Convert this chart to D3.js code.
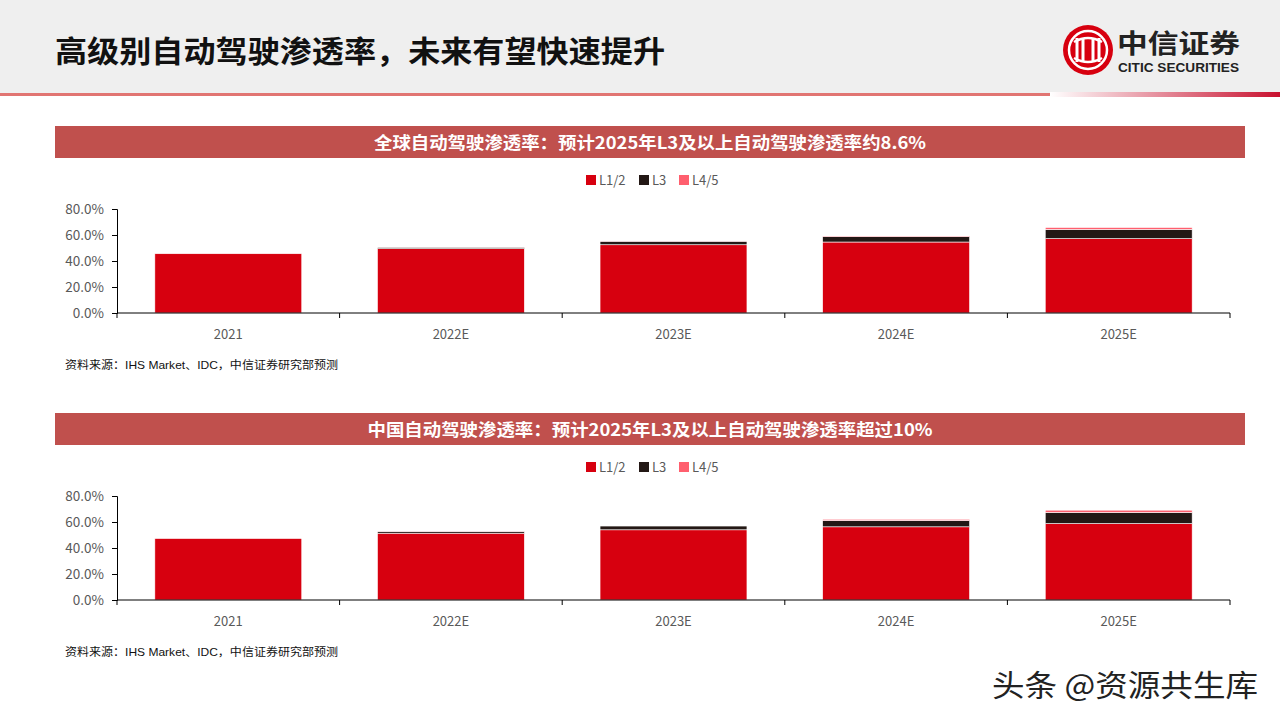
<!DOCTYPE html>
<html>
<head>
<meta charset="utf-8">
<script src="https://cdn.jsdelivr.net/npm/d3@7"></script>
<style>
  body { margin: 0; background: #fff; }
  svg { display: block; font-family: "Noto Sans CJK SC", "Noto Sans", sans-serif; }
</style>
</head>
<body>
<svg id="page" width="1280" height="720"></svg>
<script>
// ---------- data ----------
const years = ['2021', '2022E', '2023E', '2024E', '2025E'];
const seriesNames = ['L1/2', 'L3', 'L4/5'];
const yTicks = [0, 20, 40, 60, 80];

const globalL12 = [45.6, 49.5, 52.5, 54.6, 57.2];
const globalL3  = [0, 1.1, 2.7, 4.1, 7.1];
const globalL45 = [0, 0.1, 0.2, 0.5, 1.5];

const chinaL12 = [47.3, 51.4, 54.0, 56.3, 58.8];
const chinaL3  = [0, 1.3, 3.0, 4.8, 8.5];
const chinaL45 = [0, 0.2, 0.3, 1.0, 1.8];

const pageTitle = '高级别自动驾驶渗透率，未来有望快速提升';
const bannerTitles = [
  '全球自动驾驶渗透率：预计2025年L3及以上自动驾驶渗透率约8.6%',
  '中国自动驾驶渗透率：预计2025年L3及以上自动驾驶渗透率超过10%'
];
const bannerWidths = [552, 565];
const sourceText = '资料来源：IHS Market、IDC，中信证券研究部预测';

const colors = ['#d7000f', '#231815', '#ff5f6e'];

const svg = d3.select('#page');

// ---------- header ----------
const defs = svg.append('defs');
const grad = defs.append('linearGradient').attr('id', 'lineGrad');
grad.append('stop').attr('offset', '0%').attr('stop-color', '#ffffff');
grad.append('stop').attr('offset', '100%').attr('stop-color', '#c8102e');

svg.append('rect').attr('x', 0).attr('y', 0).attr('width', 1280).attr('height', 93).attr('fill', '#efefef');
svg.append('rect').attr('x', 0).attr('y', 93).attr('width', 1050).attr('height', 3).attr('fill', '#d9534f').attr('opacity', 0.8);
svg.append('rect').attr('x', 1050).attr('y', 92).attr('width', 230).attr('height', 5).attr('fill', 'url(#lineGrad)');

svg.append('text')
  .attr('x', 55).attr('y', 62)
  .attr('font-size', 30).attr('font-weight', 'bold').attr('fill', '#111')
  .attr('textLength', 610).attr('lengthAdjust', 'spacingAndGlyphs')
  .text(pageTitle);

// logo
const logo = svg.append('g').attr('transform', 'translate(1088,50)');
logo.append('circle').attr('r', 25).attr('fill', '#d7000f');
logo.append('circle').attr('r', 19).attr('fill', 'none').attr('stroke', '#fff').attr('stroke-width', 2.5);
[-11, -5, 5, 11].forEach(dx => {
  logo.append('rect').attr('x', dx - 1.5).attr('y', -12).attr('width', 3).attr('height', 24).attr('fill', '#fff');
});
logo.append('path').attr('d', 'M-14,-8 Q0,-16 14,-8').attr('fill', 'none').attr('stroke', '#fff').attr('stroke-width', 2.5);
logo.append('path').attr('d', 'M-14,8 Q0,16 14,8').attr('fill', 'none').attr('stroke', '#fff').attr('stroke-width', 2.5);

svg.append('text')
  .attr('x', 1117).attr('y', 53)
  .attr('font-size', 26).attr('font-weight', 'bold').attr('fill', '#222')
  .attr('textLength', 123).attr('lengthAdjust', 'spacingAndGlyphs')
  .text('中信证券');
svg.append('text')
  .attr('x', 1118).attr('y', 72)
  .attr('font-size', 12).attr('font-weight', 'bold').attr('fill', '#222')
  .attr('font-family', 'Liberation Sans, Arial, sans-serif')
  .attr('textLength', 121).attr('lengthAdjust', 'spacingAndGlyphs')
  .text('CITIC SECURITIES');

// ---------- charts ----------
const x = d3.scaleBand().domain(years).range([117, 1230]).paddingInner(0.34).paddingOuter(0.17);

function drawChart(dy, title, titleWidth, l12, l3, l45) {
  const g = svg.append('g').attr('transform', `translate(0,${dy})`);

  // banner
  g.append('rect').attr('x', 55).attr('y', 126).attr('width', 1190).attr('height', 32).attr('fill', '#c0504d');
  g.append('text')
    .attr('x', 650 - titleWidth / 2).attr('y', 149)
    .attr('font-size', 17).attr('font-weight', 'bold').attr('fill', '#fff')
    .attr('textLength', titleWidth).attr('lengthAdjust', 'spacingAndGlyphs')
    .text(title);

  // legend
  const legend = g.append('g').attr('transform', 'translate(586,180)');
  const offsets = [0, 53, 93];
  seriesNames.forEach((name, i) => {
    const item = legend.append('g').attr('transform', `translate(${offsets[i]},0)`);
    item.append('rect').attr('x', 0).attr('y', -5).attr('width', 10).attr('height', 10).attr('fill', colors[i]);
    item.append('text').attr('x', 13).attr('y', 5).attr('font-size', 13).attr('fill', '#595959').text(name);
  });

  // data
  const rows = years.map((yr, i) => ({ year: yr, 'L1/2': l12[i], 'L3': l3[i], 'L4/5': l45[i] }));
  const stacked = d3.stack().keys(seriesNames)(rows);

  const y = d3.scaleLinear().domain([0, 80]).range([313, 209]);

  g.selectAll('g.series')
    .data(stacked)
    .join('g')
      .attr('class', 'series')
      .attr('fill', (d, i) => colors[i])
    .selectAll('rect')
    .data(d => d)
    .join('rect')
      .attr('x', d => x(d.data.year))
      .attr('width', x.bandwidth())
      .attr('y', d => y(d[1]))
      .attr('height', d => Math.max(0, y(d[0]) - y(d[1])))
      .attr('stroke', '#fff')
      .attr('stroke-width', 0.6);

  // y axis
  const yAxis = d3.axisLeft(y).tickValues(yTicks).tickSize(5).tickFormat(d => d.toFixed(1) + '%');
  const ya = g.append('g').attr('transform', 'translate(117,0)').call(yAxis);
  ya.select('.domain').attr('stroke', '#000').attr('stroke-width', 1);
  ya.selectAll('.tick line').attr('stroke', '#000');
  ya.selectAll('.tick text')
    .attr('x', -13)
    .attr('font-size', 13.5).attr('fill', '#595959')
    .attr('font-family', '"Noto Sans CJK SC", sans-serif');

  // x axis: ticks on band boundaries
  const xa = g.append('g').attr('transform', 'translate(0,313)');
  xa.append('line').attr('x1', 117).attr('x2', 1230).attr('stroke', '#000').attr('stroke-width', 1);
  const bounds = d3.range(years.length + 1).map(i => x.range()[0] + i * (x.range()[1] - x.range()[0]) / years.length);
  xa.selectAll('line.tk').data(bounds).join('line')
    .attr('class', 'tk')
    .attr('x1', d => d).attr('x2', d => d)
    .attr('y1', 0).attr('y2', 5)
    .attr('stroke', '#000');
  xa.selectAll('text').data(years).join('text')
    .attr('x', d => x(d) + x.bandwidth() / 2)
    .attr('y', 26)
    .attr('text-anchor', 'middle')
    .attr('font-size', 13).attr('fill', '#595959')
    .text(d => d);

  // source
  g.append('text')
    .attr('x', 65).attr('y', 369)
    .attr('font-size', 11).attr('fill', '#111')
    .attr('font-family', '"Liberation Sans", "Noto Sans CJK SC", sans-serif')
    .attr('textLength', 273).attr('lengthAdjust', 'spacingAndGlyphs')
    .text(sourceText);
}

drawChart(0, bannerTitles[0], bannerWidths[0], globalL12, globalL3, globalL45);
drawChart(287, bannerTitles[1], bannerWidths[1], chinaL12, chinaL3, chinaL45);

// watermark
svg.append('text')
  .attr('x', 992).attr('y', 696)
  .attr('font-size', 30).attr('fill', '#222')
  .attr('stroke', '#fff').attr('stroke-width', 0.8).attr('paint-order', 'stroke')
  .attr('textLength', 266).attr('lengthAdjust', 'spacingAndGlyphs')
  .text('头条 @资源共生库');
</script>
</body>
</html>
